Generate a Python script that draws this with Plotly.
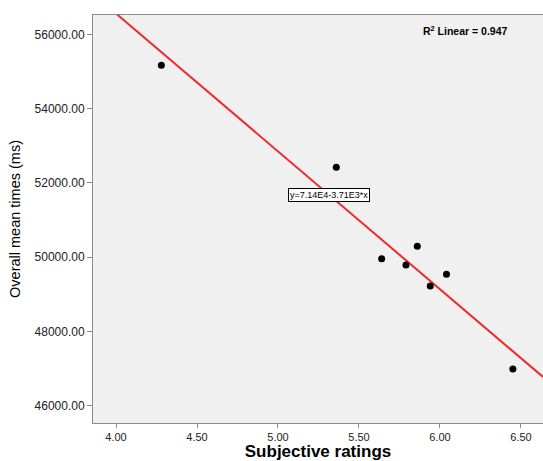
import plotly.graph_objects as go
import numpy as np

# Data
ratings = [4.28, 5.36, 5.64, 5.86, 5.79, 6.04, 5.94, 6.45]
mean_times = [55170, 52420, 49960, 50300, 49790, 49540, 49230, 46990]

intercept = 7.14e4
slope = -3.71e3
r2_label = "R<sup>2</sup> Linear = 0.947"
eq_label = "y=7.14E4-3.71E3*x"

x_ticks = [4.0, 4.5, 5.0, 5.5, 6.0, 6.5]
y_ticks = [46000, 48000, 50000, 52000, 54000, 56000]

x_range = [3.858, 6.636]
y_range = [45540, 56520]

fit_x = np.array(x_range)
fit_y = intercept + slope * fit_x

font = "Liberation Sans, Arial, sans-serif"

fig = go.Figure()
fig.add_trace(go.Scatter(x=fit_x, y=fit_y, mode="lines",
                         line=dict(color="#EE2B2B", width=2), showlegend=False,
                         hoverinfo="skip"))
fig.add_trace(go.Scatter(x=ratings, y=mean_times, mode="markers",
                         marker=dict(color="black", size=7), showlegend=False))

fig.add_annotation(x=5.315, y=intercept + slope * 5.315, xref="x", yref="y",
                   text=eq_label, showarrow=False,
                   font=dict(family=font, size=9, color="black"),
                   bgcolor="white", bordercolor="black", borderwidth=1, borderpad=1)
fig.add_annotation(x=0.927, y=0.962, xref="paper", yref="paper",
                   xanchor="right", yanchor="middle",
                   text="<b>" + r2_label + "</b>", showarrow=False,
                   font=dict(family=font, size=10.5, color="black"))

fig.update_layout(
    width=543, height=461,
    margin=dict(l=93, r=0, t=15, b=38),
    paper_bgcolor="white",
    plot_bgcolor="#F0F0F0",
    font=dict(family=font, color="black"),
    xaxis=dict(range=x_range, tickvals=x_ticks,
               ticktext=[f"{v:.2f}" for v in x_ticks],
               showgrid=False, zeroline=False,
               showline=True, linecolor="#8C8C8C", linewidth=1, mirror=True,
               ticks="outside", ticklen=4, tickcolor="#8C8C8C",
               tickfont=dict(family=font, size=11, color="#222"),
               title=dict(text="<b>Subjective ratings</b>",
                          font=dict(family=font, size=17, color="black"),
                          standoff=1)),
    yaxis=dict(range=y_range, tickvals=y_ticks,
               ticktext=[f"{v:.2f}" for v in y_ticks],
               showgrid=False, zeroline=False,
               showline=True, linecolor="#8C8C8C", linewidth=1,
               ticks="outside", ticklen=5, tickcolor="#8C8C8C",
               tickfont=dict(family=font, size=12, color="#222"),
               title=dict(text="Overall mean times (ms)",
                          font=dict(family=font, size=14.5, color="black"),
                          standoff=10)),
)

fig.write_html("out.html", config={"displayModeBar": False},
               post_script="document.body.style.margin='0';document.body.style.overflow='hidden';")
